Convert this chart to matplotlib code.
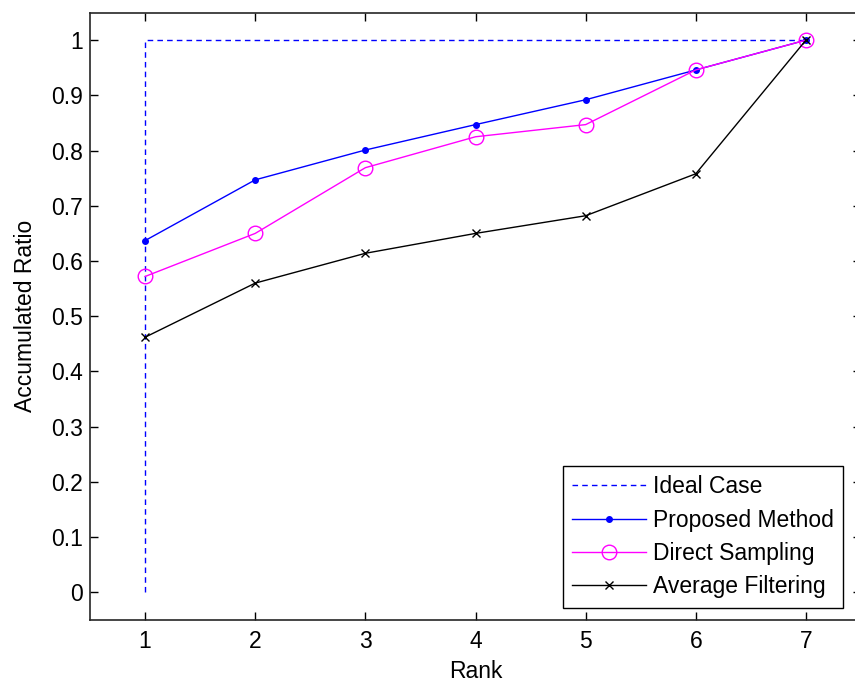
import matplotlib
matplotlib.use("Agg")
import matplotlib.pyplot as plt

rank = [1, 2, 3, 4, 5, 6, 7]
ideal_x = [1, 1, 7]
ideal_y = [0, 1, 1]
proposed = [0.637, 0.747, 0.801, 0.847, 0.892, 0.946, 1.0]
direct = [0.572, 0.650, 0.769, 0.825, 0.847, 0.946, 1.0]
average = [0.462, 0.560, 0.614, 0.650, 0.682, 0.758, 1.0]
yticks = [0, 0.1, 0.2, 0.3, 0.4, 0.5, 0.6, 0.7, 0.8, 0.9, 1]
ytick_labels = ["0", "0.1", "0.2", "0.3", "0.4", "0.5", "0.6", "0.7", "0.8", "0.9", "1"]

plt.rcParams['font.family'] = ['Liberation Sans', 'DejaVu Sans']
FS = 16.5

fig = plt.figure(figsize=(8.55, 6.85), dpi=100)
ax = fig.add_axes([90/855, 65/685, (861-90)/855, (620-12.5)/685])

ax.plot(ideal_x, ideal_y, color='#0000ff', linestyle=(0, (4, 3)), linewidth=1.0, label='Ideal Case')
ax.plot(rank, proposed, color='#0000ff', marker='.', markersize=8, linewidth=1.0, label='Proposed Method')
ax.plot(rank, direct, color='#ff00ff', marker='o', markersize=10.5, markerfacecolor='none',
        markeredgewidth=1.0, linewidth=1.0, label='Direct Sampling')
ax.plot(rank, average, color='black', marker='x', markersize=6, markeredgewidth=1.0,
        linewidth=1.0, label='Average Filtering')

ax.set_xlim(0.5, 7.5)
ax.set_ylim(-0.05, 1.05)
ax.set_xticks(rank)
ax.set_yticks(yticks)
ax.set_yticklabels(ytick_labels)
ax.tick_params(direction='in', length=6, width=1.0, top=True, right=True, labelsize=FS)
ax.tick_params(axis='x', pad=7)
ax.tick_params(axis='y', pad=5)
for s in ax.spines.values():
    s.set_linewidth(1.2)
    s.set_color('#262626')

ax.set_xlabel('Rank', fontsize=FS, labelpad=5)
ax.set_ylabel('Accumulated Ratio', fontsize=FS, labelpad=10)

leg = ax.legend(loc='lower right', bbox_to_anchor=(843/855, (685-608)/685), bbox_transform=fig.transFigure,
                fontsize=FS, frameon=True, fancybox=False, edgecolor='black', framealpha=1,
                handlelength=3.2, handletextpad=0.3, borderpad=0.42, labelspacing=0.45, borderaxespad=0)
leg.get_frame().set_linewidth(1.0)

fig.savefig('out.png', dpi=100)
